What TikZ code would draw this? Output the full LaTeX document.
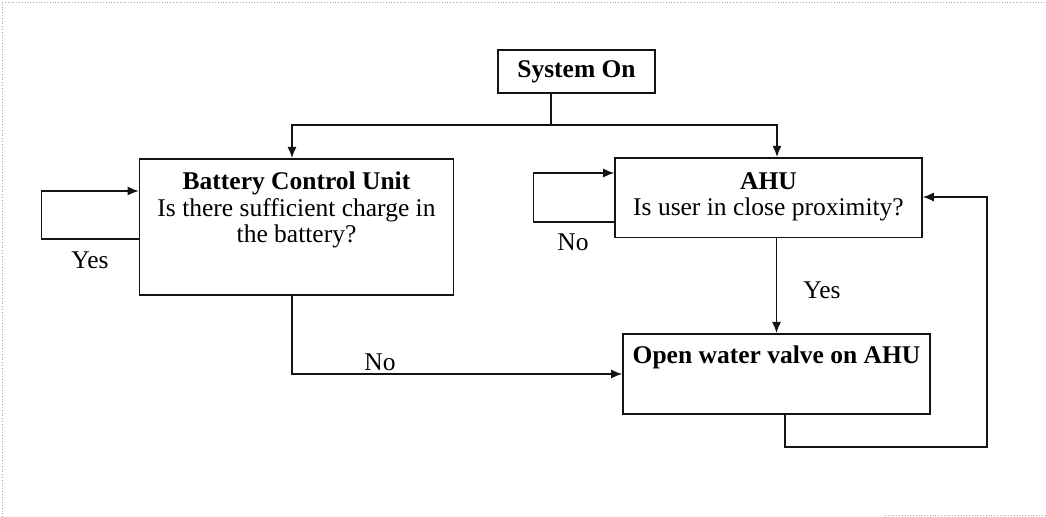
\documentclass[tikz,border=0pt]{standalone}
\usepackage{fontspec}
\setmainfont{Liberation Serif}
\usepackage{tikz}
\usetikzlibrary{arrows.meta,positioning,calc}
\definecolor{scangray}{RGB}{165,165,165}
\definecolor{flowblack}{RGB}{20,20,20}

\begin{document}
\begin{tikzpicture}[x=0.5pt,y=-0.5pt,
    every node/.style={font=\fontsize{12.75}{13.25}\selectfont},
    flowbox/.style={draw=flowblack, line width=0.8pt, align=center, inner xsep=2pt},
    flow/.style={draw=flowblack, line width=0.7pt, -{Latex[length=5.5pt,width=4.5pt]}},
    link/.style={draw=flowblack, line width=0.7pt}]
    \useasboundingbox (0,0) rectangle (1046,517);

    % scan frame
    \draw[scangray, line width=0.4pt, densely dotted] (2,517) -- (2,2) -- (1046,2);
    \draw[scangray, line width=0.4pt, densely dotted] (885,515) -- (1046,515);

    % boxes
    \node[flowbox, minimum width=78.5pt, minimum height=21.5pt] (son) at (576.5,71.5) {\textbf{System On}};
    \node[flowbox, anchor=north, minimum width=157pt, inner ysep=6.7pt, text depth=19.5pt] (bcu) at (296.5,158)
        {\textbf{Battery Control Unit}\\Is there sufficient charge in\\the battery?};
    \node[flowbox, anchor=north, minimum width=153.5pt, inner ysep=7.2pt, text depth=3.75pt] (ahu) at (768.5,157)
        {\textbf{AHU}\\Is user in close proximity?};
    \node[flowbox, anchor=north, minimum width=153.5pt, inner ysep=6.2pt, text depth=19pt] (valve) at (776.5,333)
        {\textbf{Open water valve on AHU}};

    % helper points
    \coordinate (split) at (551,125);
    \coordinate (fbk) at (987,197);

    % start split
    \draw[link] (son.south -| split) -- (split);
    \draw[flow] (split) -| ([xshift=-2.25pt]bcu.north);
    \draw[flow] (split) -| ([xshift=4.25pt]ahu.north);

    % loops
    \draw[flow] ([yshift=-40.5pt]bcu.north west) -- ++(-97,0) |- ([yshift=-16.5pt]bcu.north west);
    \draw[flow] ([yshift=-32.5pt]ahu.north west) -- ++(-81,0) |- ([yshift=-8pt]ahu.north west);

    % to the valve
    \draw[flow] (valve.north |- ahu.south) -- (valve.north);
    \draw[flow] ([xshift=-2.25pt]bcu.south) |- ([yshift=-20.5pt]valve.north west);
    \draw[flow] ([xshift=4.25pt]valve.south) -- ++(0,32) -| (fbk) -- ([yshift=-20pt]ahu.north east);

    % answers
    \node (yesbcu) at (90,260) {Yes};
    \node (noahu) at (573,242) {No};
    \node (yesahu) at (822,290) {Yes};
    \node (nobcu) at (380,362) {No};
\end{tikzpicture}
\end{document}
